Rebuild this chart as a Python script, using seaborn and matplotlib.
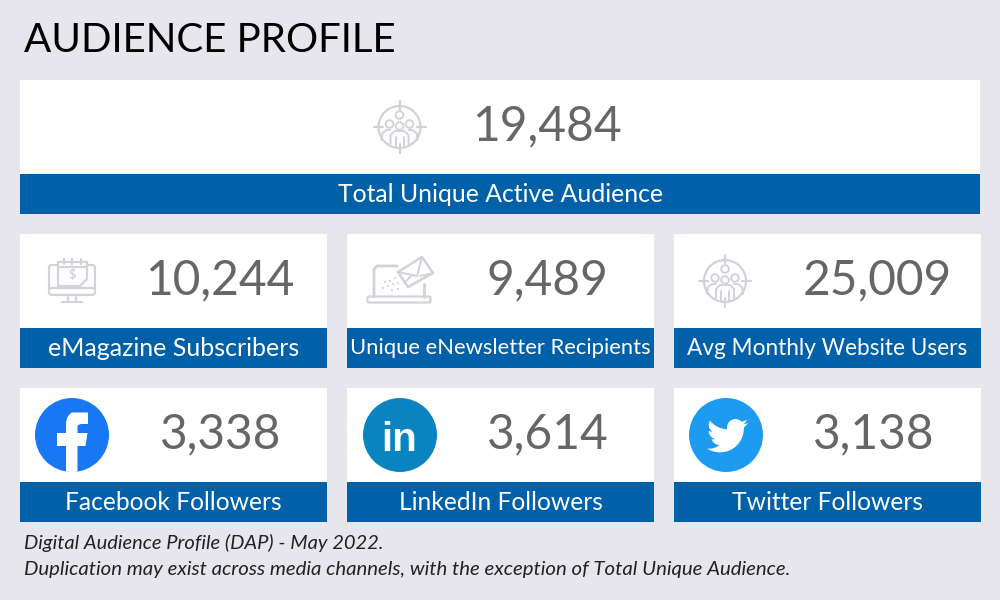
import numpy as np
import matplotlib
matplotlib.use('Agg')
import matplotlib.pyplot as plt
from matplotlib.patches import Rectangle, Circle, Polygon, PathPatch, FancyBboxPatch
from matplotlib.path import Path
import seaborn as sns

# ── data ─────────────────────────────────────────────────────
title = 'AUDIENCE PROFILE'
total_value = '19,484'
total_label = 'Total Unique Active Audience'
row2_values = ['10,244', '9,489', '25,009']
row2_labels = ['eMagazine Subscribers', 'Unique eNewsletter Recipients', 'Avg Monthly Website Users']
row3_values = ['3,338', '3,614', '3,138']
row3_labels = ['Facebook Followers', 'LinkedIn Followers', 'Twitter Followers']
notes = ['Digital Audience Profile (DAP) - May 2022.',
         'Duplication may exist across media channels, with the exception of Total Unique Audience.']

# ── style ────────────────────────────────────────────────────
BG = '#E7E6EC'
BLUE = '#0060A8'
GREY = '#666666'
ICON = '#D3D2DB'
sns.set_theme(style='white', rc={'figure.facecolor': BG, 'axes.facecolor': BG})
plt.rcParams['font.family'] = ['Lato', 'DejaVu Sans']

fig, ax = plt.subplots(figsize=(10, 6), dpi=100)
ax.set_position([0, 0, 1, 1])
ax.set_xlim(0, 1000)
ax.set_ylim(600, 0)
ax.set_xticks([])
ax.set_yticks([])
sns.despine(ax=ax, left=True, bottom=True)


def card(x, y, w, value, label, value_x, label_size=17.7):
    ax.add_patch(Rectangle((x, y), w, 134, fc='white', ec='none'))
    ax.add_patch(Rectangle((x, y + 94), w, 40, fc=BLUE, ec='none'))
    ax.text(value_x, y + 60, value, color=GREY, fontsize=34.5, ha='center', va='baseline')
    ax.text(x + w / 2, y + 114.5, label, color='white', fontsize=label_size, ha='center', va='center')


def line(xs, ys, lw=1.6, zorder=4):
    ax.plot(xs, ys, color=ICON, lw=lw, solid_capstyle='round', solid_joinstyle='round', zorder=zorder)


def people_icon(cx, cy):
    ax.add_patch(Circle((cx, cy), 21, fc='none', ec=ICON, lw=1.6))
    line([cx, cx], [cy - 26, cy - 17])
    line([cx, cx], [cy + 17, cy + 26])
    line([cx - 26, cx - 17], [cy, cy])
    line([cx + 17, cx + 26], [cy, cy])
    # front figure and the two shoulders behind it
    line([cx - 18, cx - 17, cx - 13, cx - 9], [cy + 13, cy + 6, cy + 3, cy + 3], 1.4)
    line([cx + 18, cx + 17, cx + 13, cx + 9], [cy + 13, cy + 6, cy + 3, cy + 3], 1.4)
    line([cx - 9, cx - 9, cx - 5, cx + 5, cx + 9, cx + 9],
         [cy + 17, cy + 8, cy + 4, cy + 4, cy + 8, cy + 17], 1.4)
    line([cx - 4, cx - 4], [cy + 10, cy + 20], 1.4)
    line([cx + 4, cx + 4], [cy + 10, cy + 20], 1.4)
    for dx, dy in [(0, -12), (-10, -3), (10, -3), (0, -1)]:
        ax.add_patch(Circle((cx + dx, cy + dy), 3.8, fc='white', ec=ICON, lw=1.4, zorder=5))


def monitor_icon():
    line([58, 51, 49, 49, 51, 93, 95, 95, 93, 87],
         [265, 265, 267, 293, 295, 295, 293, 267, 265, 265], zorder=2)
    line([49, 95], [288, 288], zorder=2)
    line([68, 68], [295, 301])
    line([76, 76], [295, 301])
    line([62, 82], [302, 302])
    ax.add_patch(Polygon([(58, 262), (87, 262), (87, 279), (80, 286), (58, 286)],
                         closed=True, fc='white', ec=ICON, lw=1.6, zorder=3))
    line([58, 87], [267, 267])
    for x in (64, 72, 81):
        line([x, x], [259, 264])
    ax.text(72, 275.5, '$', color=ICON, fontsize=9, fontweight='bold', ha='center', va='center', zorder=5)


def laptop_icon():
    line([397, 377, 374, 374], [266, 266, 269, 297], 2)
    line([424, 424], [284, 297], 2)
    ax.add_patch(FancyBboxPatch((369, 298), 60, 3, boxstyle='round,pad=1.5', fc='none', ec=ICON, lw=1.6))
    ax.add_patch(Polygon([(398, 272), (422, 257), (433, 273), (408, 287)],
                         closed=True, fc='white', ec=ICON, lw=1.8, zorder=3))
    line([398, 417, 422], [272, 276, 257], 1.5)
    line([404, 412], [283, 275], 1.3)
    line([420, 433], [276, 273], 1.3)
    for px, py in [(385, 282), (390, 281), (395, 278), (383, 288), (388, 286), (393, 284),
                   (398, 283), (392, 290), (398, 289)]:
        ax.add_patch(Circle((px, py), 1.1, fc=ICON, ec='none'))


def facebook_icon():
    disc = Circle((72, 435), 37, fc='#1877F2', ec='none')
    ax.add_patch(disc)
    verts = [(66, 474), (66, 446), (57, 446), (57, 433), (66, 433), (66, 424),
             (66, 416), (72, 412.5), (80, 412.5), (88, 412.5), (88, 413), (88, 424),
             (82, 424), (78.5, 424), (77.5, 426), (77.5, 433), (87.5, 433), (85.5, 446),
             (77.5, 446), (77.5, 474), (66, 474)]
    codes = [Path.MOVETO] + [Path.LINETO] * 5 + [Path.CURVE3] * 2 + [Path.LINETO] * 5 + \
            [Path.CURVE3] * 2 + [Path.LINETO] * 5 + [Path.CLOSEPOLY]
    f = PathPatch(Path(verts, codes), fc='white', ec='none', zorder=3)
    ax.add_patch(f)
    f.set_clip_path(disc)


def linkedin_icon():
    ax.add_patch(Circle((400, 435), 37, fc='#0A84C1', ec='none'))
    ax.text(399.5, 451, 'in', color='white', fontsize=29, fontweight='bold', family='Liberation Sans',
            ha='center', va='baseline')


BIRD = [(22.46, 6),
        (21.69, 6.35), (20.86, 6.58), (20, 6.69), (20.88, 6.16), (21.56, 5.32), (21.88, 4.31),
        (21.05, 4.81), (20.13, 5.16), (19.16, 5.36), (18.37, 4.5), (17.26, 4), (16, 4),
        (13.65, 4), (11.73, 5.92), (11.73, 8.29), (11.73, 8.63), (11.77, 8.96), (11.84, 9.27),
        (8.28, 9.09), (5.11, 7.38), (3, 4.79), (2.63, 5.42), (2.42, 6.16), (2.42, 6.94),
        (2.42, 8.43), (3.17, 9.75), (4.33, 10.5), (3.62, 10.5), (2.96, 10.3), (2.38, 10),
        (2.38, 10.01), (2.38, 10.02), (2.38, 10.03), (2.38, 12.11), (3.86, 13.85), (5.82, 14.24),
        (5.2, 14.4), (4.55, 14.42), (3.89, 14.31), (4.44, 16.03), (6.04, 17.26), (7.89, 17.29),
        (6.44, 18.43), (4.59, 19.13), (2.56, 19.13), (2.22, 19.13), (1.88, 19.11), (1.54, 19.07),
        (3.44, 20.29), (5.7, 21), (8.12, 21), (16, 21), (20.33, 14.46), (20.33, 8.79),
        (20.33, 8.6), (20.33, 8.42), (20.32, 8.23), (21.16, 7.63), (21.88, 6.87), (22.46, 6)]


def twitter_icon():
    ax.add_patch(Circle((726, 435), 37, fc='#1D9BF0', ec='none'))
    pts = np.array(BIRD) * 1.96 + [704, 411.2]
    codes = [Path.MOVETO] + [Path.CURVE4] * (len(pts) - 1)
    ax.add_patch(PathPatch(Path(pts, codes), fc='white', ec='none', zorder=3))


# ── layout ───────────────────────────────────────────────────
card(20, 80, 960, total_value, total_label, 547, label_size=17.8)
people_icon(399.5, 127)

col_x = [20, 347, 674]
row2_val_x = [220, 547, 877]
row3_val_x = [221, 548, 874]
row2_label_sizes = [18, 15.8, 16.3]
for x, v, lab, vx, ls in zip(col_x, row2_values, row2_labels, row2_val_x, row2_label_sizes):
    card(x, 234, 307, v, lab, vx, label_size=ls)
for x, v, lab, vx in zip(col_x, row3_values, row3_labels, row3_val_x):
    card(x, 388, 307, v, lab, vx)

monitor_icon()
laptop_icon()
people_icon(725, 281)
facebook_icon()
linkedin_icon()
twitter_icon()

ax.text(24, 52, title, color='black', fontsize=29, ha='left', va='baseline')
for y, note, size in zip([548.5, 574.5], notes, [14.5, 14.7]):
    ax.text(24, y, note, color='#222222', fontsize=size, style='italic', ha='left', va='baseline')

plt.savefig('out.png', dpi=100, facecolor=BG)
